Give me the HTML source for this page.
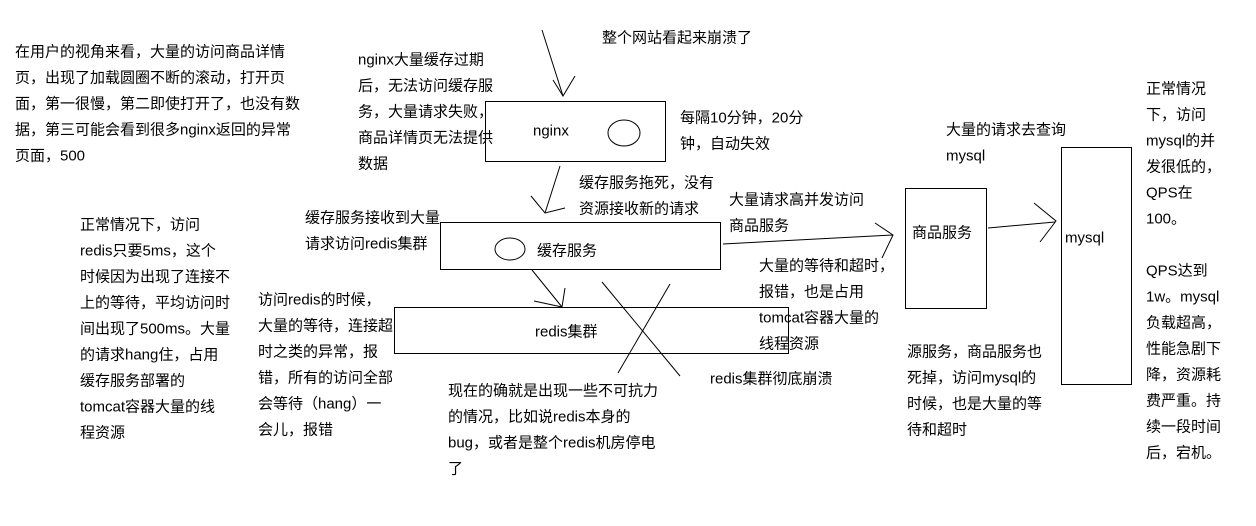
<!DOCTYPE html>
<html><head><meta charset="utf-8"><style>
html,body{margin:0;padding:0;background:#fff;}
svg{display:block}
text{font-family:"Liberation Sans","Noto Sans CJK SC",sans-serif;font-size:15px;fill:#000;dominant-baseline:central;}
</style></head><body>
<svg width="1256" height="526" viewBox="0 0 1256 526" xmlns="http://www.w3.org/2000/svg">
<g fill="none" stroke="#000" stroke-width="1">
<rect x="485.5" y="101.5" width="180" height="60"/>
<ellipse cx="624" cy="133" rx="16" ry="13"/>
<rect x="440.5" y="222.5" width="280" height="47"/>
<ellipse cx="510" cy="249" rx="15" ry="11"/>
<rect x="394.5" y="307.5" width="394" height="46"/>
<rect x="905.5" y="188.5" width="81" height="120"/>
<rect x="1061.5" y="147.5" width="70" height="237"/>
<line x1="602" y1="282" x2="680" y2="376"/>
<line x1="670" y1="284" x2="618" y2="373"/>
<polyline points="542,30 563,96"/><polyline points="553,80 563,96 575,76"/>
<polyline points="560,166 545,213"/><polyline points="531,196 545,213 565,208"/>
<polyline points="532,270 562,307"/><polyline points="534,301 562,307 565,288"/>
<polyline points="723,244 893,235"/><polyline points="875,223 893,235 882,258"/>
<polyline points="988,228 1055,222"/><polyline points="1034,203 1056,221 1040,242"/>
</g>
<text x="533" y="131">nginx</text>
<text x="537" y="251">缓存服务</text>
<text x="535" y="332">redis集群</text>
<text x="912" y="233">商品服务</text>
<text x="1065" y="238">mysql</text>
<text x="602" y="38">整个网站看起来崩溃了</text>
<g>
<text x="15" y="52">在用户的视角来看，大量的访问商品详情</text>
<text x="15" y="78">页，出现了加载圆圈不断的滚动，打开页</text>
<text x="15" y="104">面，第一很慢，第二即使打开了，也没有数</text>
<text x="15" y="130">据，第三可能会看到很多nginx返回的异常</text>
<text x="15" y="156">页面，500</text>
</g>
<g>
<text x="358" y="60">nginx大量缓存过期</text>
<text x="358" y="86">后，无法访问缓存服</text>
<text x="358" y="112">务，大量请求失败，</text>
<text x="358" y="138">商品详情页无法提供</text>
<text x="358" y="164">数据</text>
</g>
<text x="680" y="118">每隔10分钟，20分</text>
<text x="680" y="144">钟，自动失效</text>
<text x="579" y="183">缓存服务拖死，没有</text>
<text x="579" y="209">资源接收新的请求</text>
<text x="305" y="218">缓存服务接收到大量</text>
<text x="305" y="244">请求访问redis集群</text>
<text x="729" y="200">大量请求高并发访问</text>
<text x="729" y="226">商品服务</text>
<g>
<text x="80" y="225">正常情况下，访问</text>
<text x="80" y="251">redis只要5ms，这个</text>
<text x="80" y="277">时候因为出现了连接不</text>
<text x="80" y="303">上的等待，平均访问时</text>
<text x="80" y="329">间出现了500ms。大量</text>
<text x="80" y="355">的请求hang住，占用</text>
<text x="80" y="381">缓存服务部署的</text>
<text x="80" y="407">tomcat容器大量的线</text>
<text x="80" y="433">程资源</text>
</g>
<g>
<text x="258" y="300">访问redis的时候，</text>
<text x="258" y="326">大量的等待，连接超</text>
<text x="258" y="352">时之类的异常，报</text>
<text x="258" y="378">错，所有的访问全部</text>
<text x="258" y="404">会等待（hang）一</text>
<text x="258" y="430">会儿，报错</text>
</g>
<g>
<text x="759" y="266">大量的等待和超时，</text>
<text x="759" y="292">报错，也是占用</text>
<text x="759" y="318">tomcat容器大量的</text>
<text x="759" y="344">线程资源</text>
</g>
<text x="710" y="379">redis集群彻底崩溃</text>
<g>
<text x="448" y="391">现在的确就是出现一些不可抗力</text>
<text x="448" y="417">的情况，比如说redis本身的</text>
<text x="448" y="443">bug，或者是整个redis机房停电</text>
<text x="448" y="469">了</text>
</g>
<text x="946" y="130">大量的请求去查询</text>
<text x="946" y="156">mysql</text>
<g>
<text x="907" y="352">源服务，商品服务也</text>
<text x="907" y="378">死掉，访问mysql的</text>
<text x="907" y="404">时候，也是大量的等</text>
<text x="907" y="430">待和超时</text>
</g>
<g>
<text x="1146" y="89">正常情况</text>
<text x="1146" y="115">下，访问</text>
<text x="1146" y="141">mysql的并</text>
<text x="1146" y="167">发很低的，</text>
<text x="1146" y="193">QPS在</text>
<text x="1146" y="219">100。</text>
<text x="1146" y="271">QPS达到</text>
<text x="1146" y="297">1w。mysql</text>
<text x="1146" y="323">负载超高，</text>
<text x="1146" y="349">性能急剧下</text>
<text x="1146" y="375">降，资源耗</text>
<text x="1146" y="401">费严重。持</text>
<text x="1146" y="427">续一段时间</text>
<text x="1146" y="453">后，宕机。</text>
</g>
</svg>
</body></html>
